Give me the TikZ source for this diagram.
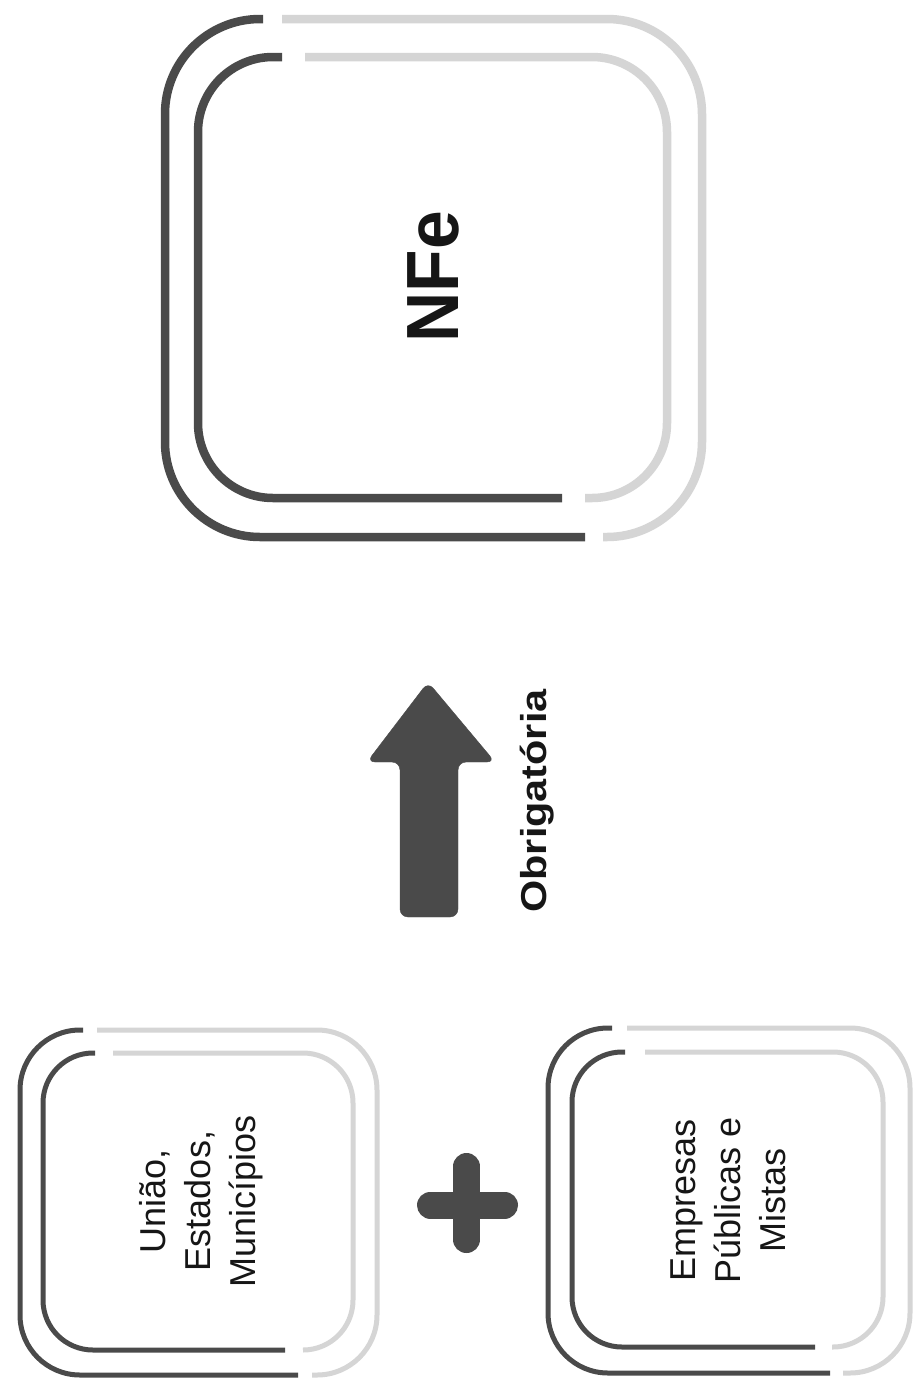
\documentclass[tikz,border=0pt]{standalone}
\usepackage{fontspec}
\usepackage{graphicx}
\setmainfont{Liberation Sans}
\definecolor{darkline}{HTML}{4A4A4A}
\definecolor{lightline}{HTML}{D5D5D5}
\definecolor{txt}{HTML}{161616}
\tikzset{
  bigdark/.style={draw=darkline, line width=8.5pt, rounded corners=#1},
  biglight/.style={draw=lightline, line width=8.5pt, rounded corners=#1},
  smalldark/.style={draw=darkline, line width=5pt, rounded corners=#1},
  smalllight/.style={draw=lightline, line width=5pt, rounded corners=#1},
  boxtext/.style={rotate=90, align=center, text=txt, inner sep=0pt,
    font=\fontsize{36}{45}\selectfont},
  symb/.style={fill=darkline, draw=darkline}
}
\begin{document}
\begin{tikzpicture}[x=1pt, y=-1pt]
\useasboundingbox[fill=white] (0,0) rectangle (915,1393);

% ---- big NFe box ----
\draw[bigdark=95pt] (263,19) -- (165,19) -- (165,537) -- (585,537);
\draw[biglight=95pt] (282,19) -- (702,19) -- (702,537) -- (603,537);
\draw[bigdark=75pt] (282,57) -- (198,57) -- (198,498) -- (562,498);
\draw[biglight=75pt] (305,57) -- (667,57) -- (667,498) -- (585,498);
\node[rotate=90, anchor=base, text=txt, inner sep=0pt,
  font=\fontsize{74}{80}\selectfont\bfseries] (nfe) at (458,277)
  {\scalebox{0.94}[1]{NFe}};

% ---- arrow ----
\draw[symb, rounded corners=8pt] (428,682) -- (495,762) -- (458,762) -- (458,917)
  -- (400,917) -- (400,762) -- (367,762) -- cycle;
\node[rotate=90, anchor=base, text=txt, inner sep=0pt,
  font=\fontsize{36}{40}\selectfont\bfseries] (obr) at (546,801)
  {\scalebox{1.15}[1]{Obrigatória}};

% ---- left small box ----
\draw[smalldark=60pt] (83,1030) -- (20,1030) -- (20,1375) -- (298,1375);
\draw[smalllight=60pt] (97,1030) -- (377,1030) -- (377,1375) -- (312,1375);
\draw[smalldark=50pt] (95,1053) -- (43,1053) -- (43,1350) -- (285,1350);
\draw[smalllight=50pt] (113,1053) -- (353,1053) -- (353,1350) -- (303,1350);
\node[boxtext] (uniao) at (201,1201) {União,\\Estados,\\Municípios};

% ---- plus ----
\draw[darkline, line width=27pt, line cap=round] (430.5,1205) -- (504.5,1205);
\draw[darkline, line width=27pt, line cap=round] (466.5,1166.5) -- (466.5,1239.5);

% ---- right small box ----
\draw[smalldark=60pt] (612,1028) -- (548,1028) -- (548,1373) -- (830,1373);
\draw[smalllight=60pt] (627,1028) -- (910,1028) -- (910,1373) -- (843,1373);
\draw[smalldark=50pt] (625,1052) -- (572,1052) -- (572,1347) -- (815,1347);
\draw[smalllight=50pt] (645,1052) -- (883,1052) -- (883,1347) -- (832,1347);
\node[boxtext] (empresas) at (728,1200) {Empresas\\Públicas e\\Mistas};
\end{tikzpicture}
\end{document}
